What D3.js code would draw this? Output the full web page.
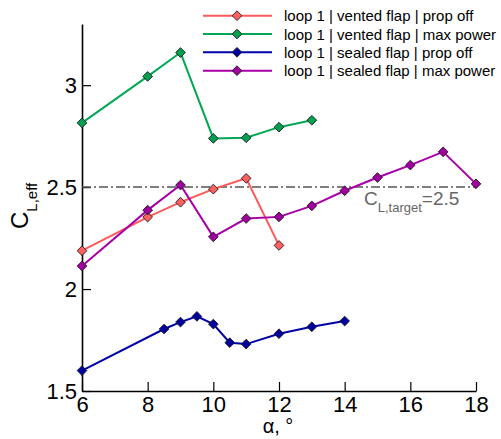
<!DOCTYPE html>
<html>
<head>
<meta charset="utf-8">
<script src="https://cdn.jsdelivr.net/npm/d3@7"></script>
<style>
  html, body { margin: 0; padding: 0; background: #fff; }
  svg { display: block; font-family: "Liberation Sans", Arial, sans-serif; }
</style>
</head>
<body>
<svg id="chart" width="501" height="439"></svg>
<script>
// Effective lift coefficient vs angle of attack, loop 1 configurations
const seriesNames = [
  "loop 1 | vented flap | prop off",
  "loop 1 | vented flap | max power",
  "loop 1 | sealed flap | prop off",
  "loop 1 | sealed flap | max power"
];
const seriesColors = ["#ff5a5a", "#00a855", "#0000a8", "#a800a8"];
const markerFills  = ["#ff6060", "#00a050", "#0000a0", "#a000a0"];

const ventedPropOffAlpha = [6, 8, 9, 10, 11, 12];
const ventedPropOffCL    = [2.188, 2.353, 2.426, 2.490, 2.543, 2.214];

const ventedMaxPowerAlpha = [6, 8, 9, 10, 11, 12, 13];
const ventedMaxPowerCL    = [2.815, 3.043, 3.160, 2.739, 2.742, 2.794, 2.828];

const sealedPropOffAlpha = [6, 8.5, 9, 9.5, 10, 10.5, 11, 12, 13, 14];
const sealedPropOffCL    = [1.600, 1.804, 1.838, 1.866, 1.828, 1.737, 1.730, 1.781, 1.815, 1.843];

const sealedMaxPowerAlpha = [6, 8, 9, 10, 11, 12, 13, 14, 15, 16, 17, 18];
const sealedMaxPowerCL    = [2.113, 2.387, 2.510, 2.256, 2.346, 2.354, 2.408, 2.482, 2.547, 2.608, 2.673, 2.516];

const targetCL = 2.5;

const xMajorTicks = [6, 8, 10, 12, 14, 16, 18];
const yMajorTicks = [1.5, 2, 2.5, 3];
const yTickLabels = ["1.5", "2", "2.5", "3"];

const seriesData = [
  [ventedPropOffAlpha, ventedPropOffCL],
  [ventedMaxPowerAlpha, ventedMaxPowerCL],
  [sealedPropOffAlpha, sealedPropOffCL],
  [sealedMaxPowerAlpha, sealedMaxPowerCL]
].map(([a, c]) => a.map((v, i) => ({ alpha: v, cl: c[i] })));

const svg = d3.select("#chart");
const x = d3.scaleLinear().domain([6, 18]).range([82, 476]);
const y = d3.scaleLinear().domain([1.5, 3.3]).range([391, 24]);

// minor ticks: 0.5 deg in x, 0.1 in y (up to the last major)
const xMinor = d3.range(6, 18.001, 0.5).filter(v => Math.abs(v / 2 - Math.round(v / 2)) > 1e-6);
const yMinor = d3.range(1.5, 3.0001, 0.1).map(v => +v.toFixed(2))
  .filter(v => Math.abs(v * 2 - Math.round(v * 2)) > 1e-6);

const gx = svg.append("g").attr("transform", `translate(0,${y(1.5)})`);
gx.call(d3.axisBottom(x).tickValues(xMinor).tickSize(-5).tickSizeOuter(0).tickFormat(""));
gx.call(d3.axisBottom(x).tickValues(xMajorTicks).tickSize(-9).tickSizeOuter(0).tickPadding(5).tickFormat(d3.format("d")));

const gy = svg.append("g").attr("transform", `translate(${x(6)},0)`);
gy.call(d3.axisLeft(y).tickValues(yMinor).tickSize(-5).tickSizeOuter(0).tickFormat(""));
gy.call(d3.axisLeft(y).tickValues(yMajorTicks).tickSize(-9).tickSizeOuter(0).tickPadding(5)
  .tickFormat((d, i) => yTickLabels[i]));

svg.selectAll(".domain").attr("stroke", "#000").attr("stroke-width", 1.6);
svg.selectAll(".tick line").attr("stroke", "#000").attr("stroke-width", 1.2);
svg.selectAll(".tick text").attr("font-size", 22).attr("fill", "#000")
  .attr("font-family", "'Liberation Sans', Arial, sans-serif");

// target line
svg.append("line")
  .attr("x1", x(6)).attr("x2", x(18))
  .attr("y1", y(targetCL)).attr("y2", y(targetCL))
  .attr("stroke", "#555").attr("stroke-width", 1.5)
  .attr("stroke-dasharray", "9,3,2,3");

const ann = svg.append("text").attr("x", 364).attr("y", 205)
  .attr("fill", "#666").attr("font-size", 19);
ann.append("tspan").text("C");
ann.append("tspan").attr("font-size", 13).attr("dy", 7).text("L,target");
ann.append("tspan").attr("dy", -7).text("=2.5");

const line = d3.line().x(d => x(d.alpha)).y(d => y(d.cl));
const diamond = d3.symbol().type(d3.symbolDiamond2).size(60);

seriesData.forEach((data, k) => {
  svg.append("path").datum(data)
    .attr("d", line).attr("fill", "none")
    .attr("stroke", seriesColors[k]).attr("stroke-width", 2);
  svg.selectAll(null).data(data).enter().append("path")
    .attr("d", diamond)
    .attr("transform", d => `translate(${x(d.alpha)},${y(d.cl)})`)
    .attr("fill", markerFills[k]).attr("stroke", "#1a1a1a").attr("stroke-width", 0.9);
});

// legend
const legend = svg.append("g");
const legendY = [15.7, 34, 52.3, 70.7];
seriesNames.forEach((name, k) => {
  const g = legend.append("g").attr("transform", `translate(0,${legendY[k]})`);
  g.append("line").attr("x1", 203).attr("x2", 272).attr("y1", 0).attr("y2", 0)
    .attr("stroke", seriesColors[k]).attr("stroke-width", 2);
  g.append("path").attr("d", diamond).attr("transform", "translate(237,0)")
    .attr("fill", markerFills[k]).attr("stroke", "#1a1a1a").attr("stroke-width", 0.9);
  g.append("text").attr("x", 284).attr("y", 5.5).attr("font-size", 15)
    .attr("fill", "#000").text(name);
});

// axis titles
svg.append("text").attr("x", 278).attr("y", 433).attr("text-anchor", "middle")
  .attr("font-size", 20).attr("fill", "#000").text("α, °");

const yt = svg.append("text").attr("transform", "translate(28,229) rotate(-90)")
  .attr("font-size", 24).attr("fill", "#000");
yt.append("tspan").text("C");
yt.append("tspan").attr("font-size", 15).attr("dy", 9).text("L,eff");
</script>
</body>
</html>
